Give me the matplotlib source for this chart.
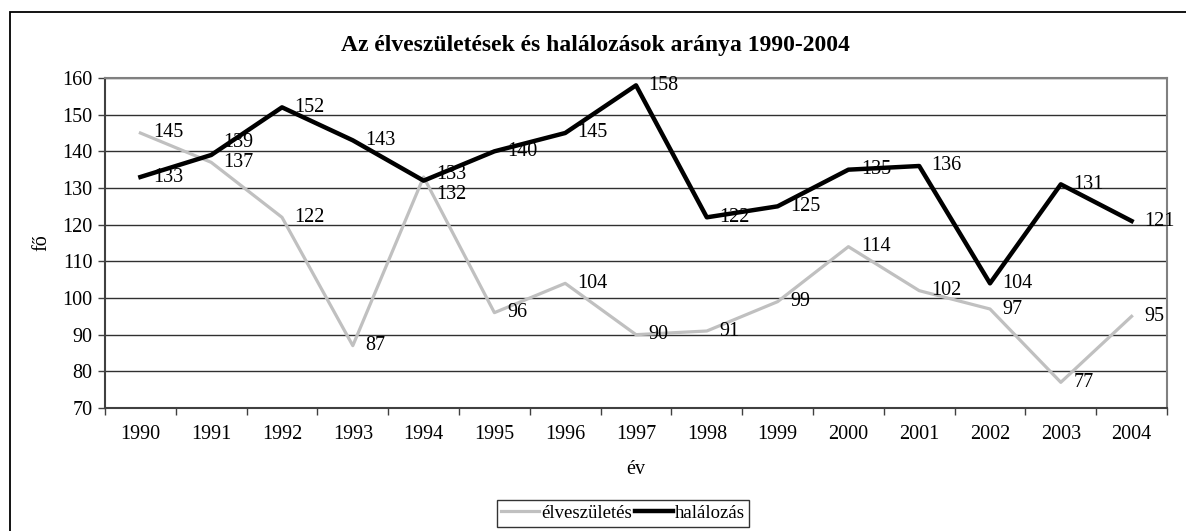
import matplotlib.pyplot as plt
from matplotlib.patches import Rectangle

# adatok
evek = ['1990', '1991', '1992', '1993', '1994', '1995', '1996', '1997',
        '1998', '1999', '2000', '2001', '2002', '2003', '2004']
elveszuletes = [145, 137, 122, 87, 133, 96, 104, 90, 91, 99, 114, 102, 97, 77, 95]
halalozas = [133, 139, 152, 143, 132, 140, 145, 158, 122, 125, 135, 136, 104, 131, 121]

plt.rcParams['font.family'] = ['Liberation Serif', 'DejaVu Serif']
FS = 14.5

fig = plt.figure(figsize=(11.86, 5.31), dpi=100)
ax = fig.add_axes([105 / 1186, 1 - 408 / 531, (1167 - 105) / 1186, (408 - 78) / 531])

# keret a teljes ábra körül (jobb és alsó széle kilóg)
fig.patches.append(Rectangle((10 / 1186, -0.1), 1.2, 1 - 12 / 531 + 0.1,
                             transform=fig.transFigure, fill=False,
                             edgecolor='black', linewidth=1.3))

x = list(range(len(evek)))
ax.plot(x, elveszuletes, color='#c0c0c0', linewidth=2.3, label='élveszületés', zorder=3)
ax.plot(x, halalozas, color='black', linewidth=3.2, label='halálozás', zorder=4)

# feliratok a pontok mellett; két helyen kicsit el vannak tolva, hogy ne fedjék egymást
eltolas_e = {4: 2}
eltolas_h = {1: 9, 4: -10}
for i in x:
    ax.annotate(str(elveszuletes[i]), (i, elveszuletes[i]), xytext=(9, eltolas_e.get(i, 0)),
                textcoords='offset points', va='center', ha='left', fontsize=FS, zorder=5)
    ax.annotate(str(halalozas[i]), (i, halalozas[i]), xytext=(9, eltolas_h.get(i, 0)),
                textcoords='offset points', va='center', ha='left', fontsize=FS, zorder=5)

ax.set_xlim(-0.5, len(evek) - 0.5)
ax.set_ylim(70, 160)
ax.set_yticks(range(70, 161, 10))
ax.set_xticks(x)
ax.set_xticklabels(evek)
ax.set_xticks([i + 0.5 for i in range(-1, len(evek))], minor=True)
ax.tick_params(axis='x', which='major', length=0, labelsize=FS, pad=12)
ax.tick_params(axis='x', which='minor', length=5, width=1, color='#404040')
ax.tick_params(axis='y', length=5, width=1, labelsize=FS, color='#404040', pad=4)
ax.grid(axis='y', color='#303030', linewidth=1)
ax.set_axisbelow(True)

for s in ['left', 'bottom']:
    ax.spines[s].set_color('#404040')
    ax.spines[s].set_linewidth(1.5)
for s in ['top', 'right']:
    ax.spines[s].set_color('#808080')
    ax.spines[s].set_linewidth(1.5)

ax.set_xlabel('év', fontsize=FS, labelpad=12)
ax.set_ylabel('fő', fontsize=FS, labelpad=8)
fig.text(595 / 1186, 1 - 46 / 531, 'Az élveszületések és halálozások aránya 1990-2004',
         ha='center', va='center', fontsize=17, fontweight='bold')

leg = fig.legend(loc='upper center', bbox_to_anchor=(623 / 1186, 1 - 500 / 531),
                 ncol=2, fontsize=13.5, frameon=True, fancybox=False,
                 handlelength=2.0, handletextpad=0.1, columnspacing=0.2,
                 borderpad=0.25, borderaxespad=0)
leg.get_frame().set_edgecolor('black')
leg.get_frame().set_linewidth(1)

fig.savefig('out.png', dpi=100)
plt.close()
